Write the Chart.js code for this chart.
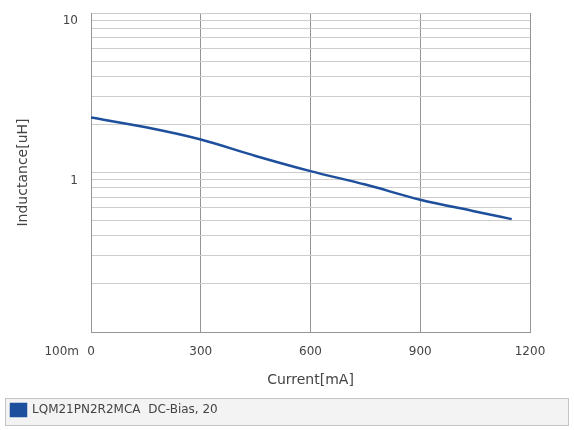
<!DOCTYPE html>
<html>
<head>
<meta charset="utf-8">
<script src="https://cdn.jsdelivr.net/npm/chart.js@4/dist/chart.umd.min.js"></script>
<style>
  html, body { margin: 0; padding: 0; background: #fff; }
  #wrap { width: 574px; height: 430px; position: relative; }
</style>
</head>
<body>
<div id="wrap"><canvas id="dcBias"></canvas></div>
<script>
// DC-bias curve
var currentMA = [0, 150, 300, 450, 600, 750, 900, 1050, 1150];
var inductanceUH = [2.21, 1.92, 1.61, 1.27, 1.02, 0.84, 0.675, 0.57, 0.51];
var xTicks = [0, 300, 600, 900, 1200];
var yTicks = [0.1, 0.2, 0.3, 0.4, 0.5, 0.6, 0.7, 0.8, 0.9,
              1, 2, 3, 4, 5, 6, 7, 8, 9, 10];
var yLabels = { '10': '10', '1': '1' };
var seriesName = 'LQM21PN2R2MCA  DC-Bias, 20';

var lineBlue = '#1d4f9c';
var textGray = '#444444';
var fontFam = '"DejaVu Sans", sans-serif';

var pts = [];
for (var i = 0; i < currentMA.length; i++) {
	pts.push({ x: currentMA[i], y: inductanceUH[i] });
}

// frame around the legend + the "100m" label that sits on the tick row
var extras = {
	id: 'extras',
	beforeDraw: function(chart) {
		var c = chart.ctx, lg = chart.legend;
		c.save();
		c.fillStyle = '#f3f3f3';
		c.strokeStyle = '#c4c4c4';
		c.lineWidth = 1;
		c.fillRect(5.5, lg.top + 0.5, 563, lg.height - 1);
		c.strokeRect(5.5, lg.top + 0.5, 563, lg.height - 1);
		c.restore();
	},
	afterDraw: function(chart) {
		var c = chart.ctx, ys = chart.scales.y;
		c.save();
		c.font = '12px ' + fontFam;
		c.fillStyle = textGray;
		c.textAlign = 'right';
		c.textBaseline = 'middle';
		c.fillText('100m', 79, ys.getPixelForValue(0.1) + 20);
		c.restore();
	}
};

var ctx = document.getElementById('dcBias').getContext('2d');
var chart = new Chart(ctx, {
	type: 'line',
	data: {
		datasets: [{
			label: seriesName,
			data: pts,
			borderColor: lineBlue,
			backgroundColor: lineBlue,
			borderWidth: 2.5,
			pointRadius: 0,
			cubicInterpolationMode: 'monotone',
			fill: false
		}]
	},
	options: {
		responsive: true,
		maintainAspectRatio: false,
		animation: false,
		layout: { padding: { left: 5, right: 44, top: 13, bottom: 4 } },
		plugins: {
			tooltip: { enabled: false },
			legend: {
				position: 'bottom',
				align: 'start',
				labels: {
					boxWidth: 15,
					boxHeight: 12,
					padding: 6,
					color: textGray,
					font: { family: fontFam, size: 12 }
				}
			}
		},
		scales: {
			x: {
				type: 'linear',
				min: 0,
				max: 1200,
				afterBuildTicks: function(s) {
					s.ticks = xTicks.map(function(v) { return { value: v }; });
				},
				afterFit: function(s) {
					s.height = 66;
					s.paddingLeft = 0;
					s.paddingRight = 0;
				},
				grid: { color: '#959595', lineWidth: 1, drawTicks: false },
				border: { color: '#959595' },
				ticks: {
					padding: 13,
					color: textGray,
					font: { family: fontFam, size: 12 },
					callback: function(v) { return String(v); }
				},
				title: {
					display: true,
					text: 'Current[mA]',
					color: textGray,
					padding: { top: 6, bottom: 9 },
					font: { family: fontFam, size: 14 }
				}
			},
			y: {
				type: 'logarithmic',
				min: 0.1,
				max: 10,
				afterBuildTicks: function(s) {
					s.ticks = yTicks.map(function(v) { return { value: v }; });
				},
				afterFit: function(s) {
					s.width = 86;
					s.paddingTop = 0;
					s.paddingBottom = 0;
				},
				grid: { color: '#cdcdcd', lineWidth: 1, drawTicks: false },
				border: { color: '#959595' },
				ticks: {
					autoSkip: false,
					padding: 13,
					labelOffset: 8,
					color: textGray,
					font: { family: fontFam, size: 12 },
					callback: function(v) { return yLabels[String(v)] || ''; }
				},
				title: {
					display: true,
					text: 'Inductance[uH]',
					color: textGray,
					padding: { top: 10, bottom: 0 },
					font: { family: fontFam, size: 14 }
				}
			}
		}
	},
	plugins: [extras]
});
</script>
</body>
</html>
